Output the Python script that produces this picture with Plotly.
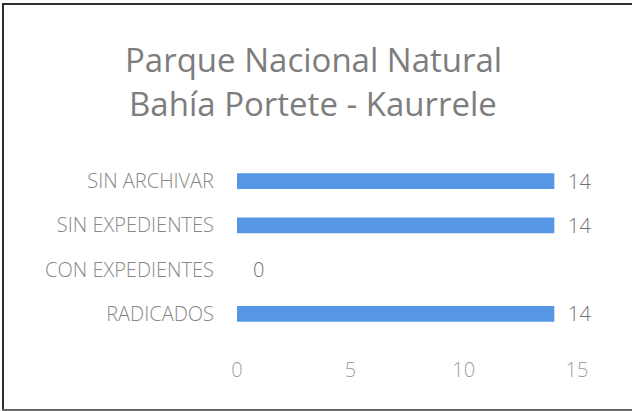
import plotly.graph_objects as go

categories = ["RADICADOS", "CON EXPEDIENTES", "SIN EXPEDIENTES", "SIN ARCHIVAR"]
values = [14, 0, 14, 14]
x_ticks = [0, 5, 10, 15]
title_lines = ["Parque Nacional Natural", "Bahía Portete - Kaurrele"]

W, H = 632, 411
L, R, T, B = 237, 55, 159, 75
pw, ph = W - L - R, H - T - B

def px_x(p):
    return (p - L) / pw

def px_y(p):
    return (H - B - p) / ph

FONT = "Open Sans"

fig = go.Figure()
fig.add_trace(go.Bar(
    y=categories, x=values, orientation="h",
    marker=dict(color="#5597E4", line=dict(width=0)),
    hoverinfo="x+y",
))

annotations = []
for c, v in zip(categories, values):
    annotations.append(dict(
        x=v, y=c, xref="x", yref="y", text=str(v), showarrow=False,
        xanchor="left", xshift=12 if v else 14,
        font=dict(family=FONT, size=20, color="#707070", weight=300),
    ))
for i, line in enumerate(title_lines):
    annotations.append(dict(
        x=px_x(313), y=px_y(60 + 43 * i), xref="paper", yref="paper",
        text=line, showarrow=False, xanchor="center", yanchor="middle",
        font=dict(family=FONT, size=33, color="#7d7d7d"),
    ))

frame = dict(type="line", xref="paper", yref="paper")
shapes = [
    dict(frame, x0=px_x(3), x1=px_x(3), y0=px_y(410), y1=px_y(4),
         line=dict(color="#2e2e2e", width=2)),
    dict(frame, x0=px_x(2), x1=px_x(632), y0=px_y(4), y1=px_y(4),
         line=dict(color="#2e2e2e", width=2)),
    dict(frame, x0=px_x(2), x1=px_x(632), y0=px_y(410), y1=px_y(410),
         line=dict(color="#6a6a6a", width=2)),
]

fig.update_layout(
    width=W, height=H,
    margin=dict(l=L, r=R, t=T, b=B, pad=0),
    paper_bgcolor="white", plot_bgcolor="white",
    showlegend=False,
    bargap=0.64,
    annotations=annotations,
    xaxis=dict(range=[0, 15], tickvals=x_ticks, showgrid=False, zeroline=False,
               showline=False, ticks="", ticklabelstandoff=20,
               tickfont=dict(family=FONT, size=20, color="#a0a0a0", weight=300)),
    yaxis=dict(showgrid=False, zeroline=False, showline=False, ticks="",
               ticklabelstandoff=22,
               tickfont=dict(family=FONT, size=20, color="#888888", weight=300)),
    shapes=shapes,
)

fig.write_html("out.html", config={"displayModeBar": False},
               post_script="document.body.style.margin='0';")
